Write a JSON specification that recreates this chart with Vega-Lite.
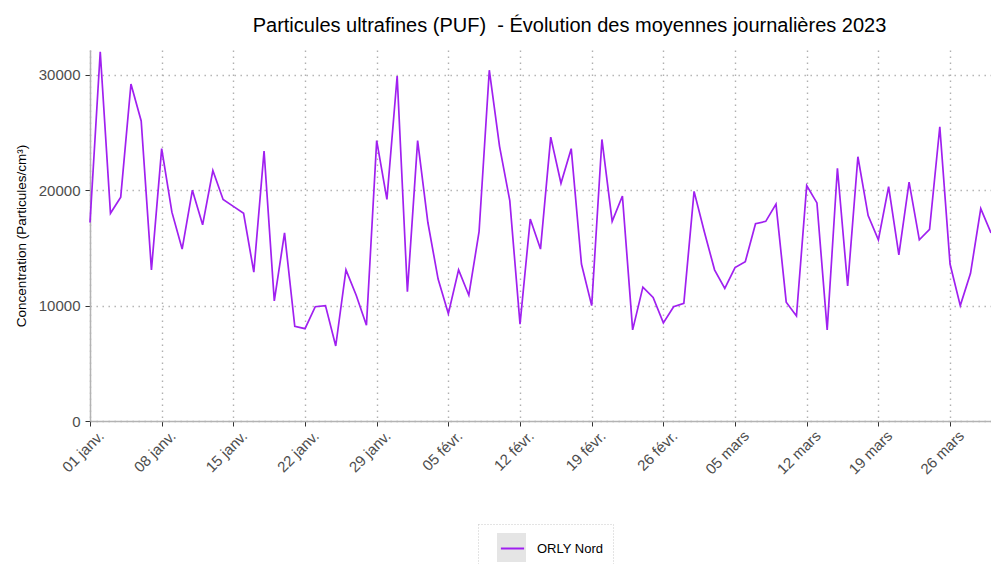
{
  "$schema": "https://vega.github.io/schema/vega-lite/v6.json",
  "width": 901,
  "height": 371,
  "autosize": {"type": "none"},
  "padding": {"left": 90, "top": 50, "right": 0, "bottom": 143},
  "background": "white",
  "config": {"view": {"stroke": null}, "font": "Liberation Sans"},
  "title": {
    "text": "Particules ultrafines (PUF) \u00a0- Évolution des moyennes journalières 2023",
    "anchor": "middle",
    "dx": 29,
    "offset": 12,
    "fontSize": 20,
    "fontWeight": "normal",
    "font": "Liberation Sans",
    "color": "black"
  },
  "data": {
    "values": [
      {"date": "2023-01-01", "value": 17200, "station": "ORLY Nord"},
      {"date": "2023-01-02", "value": 32000, "station": "ORLY Nord"},
      {"date": "2023-01-03", "value": 18000, "station": "ORLY Nord"},
      {"date": "2023-01-04", "value": 19400, "station": "ORLY Nord"},
      {"date": "2023-01-05", "value": 29200, "station": "ORLY Nord"},
      {"date": "2023-01-06", "value": 26000, "station": "ORLY Nord"},
      {"date": "2023-01-07", "value": 13100, "station": "ORLY Nord"},
      {"date": "2023-01-08", "value": 23600, "station": "ORLY Nord"},
      {"date": "2023-01-09", "value": 18100, "station": "ORLY Nord"},
      {"date": "2023-01-10", "value": 14900, "station": "ORLY Nord"},
      {"date": "2023-01-11", "value": 20000, "station": "ORLY Nord"},
      {"date": "2023-01-12", "value": 17000, "station": "ORLY Nord"},
      {"date": "2023-01-13", "value": 21700, "station": "ORLY Nord"},
      {"date": "2023-01-14", "value": 19200, "station": "ORLY Nord"},
      {"date": "2023-01-15", "value": 18600, "station": "ORLY Nord"},
      {"date": "2023-01-16", "value": 18000, "station": "ORLY Nord"},
      {"date": "2023-01-17", "value": 12900, "station": "ORLY Nord"},
      {"date": "2023-01-18", "value": 23400, "station": "ORLY Nord"},
      {"date": "2023-01-19", "value": 10400, "station": "ORLY Nord"},
      {"date": "2023-01-20", "value": 16300, "station": "ORLY Nord"},
      {"date": "2023-01-21", "value": 8200, "station": "ORLY Nord"},
      {"date": "2023-01-22", "value": 8000, "station": "ORLY Nord"},
      {"date": "2023-01-23", "value": 9900, "station": "ORLY Nord"},
      {"date": "2023-01-24", "value": 10000, "station": "ORLY Nord"},
      {"date": "2023-01-25", "value": 6500, "station": "ORLY Nord"},
      {"date": "2023-01-26", "value": 13100, "station": "ORLY Nord"},
      {"date": "2023-01-27", "value": 10900, "station": "ORLY Nord"},
      {"date": "2023-01-28", "value": 8300, "station": "ORLY Nord"},
      {"date": "2023-01-29", "value": 24300, "station": "ORLY Nord"},
      {"date": "2023-01-30", "value": 19200, "station": "ORLY Nord"},
      {"date": "2023-01-31", "value": 29900, "station": "ORLY Nord"},
      {"date": "2023-02-01", "value": 11200, "station": "ORLY Nord"},
      {"date": "2023-02-02", "value": 24300, "station": "ORLY Nord"},
      {"date": "2023-02-03", "value": 17200, "station": "ORLY Nord"},
      {"date": "2023-02-04", "value": 12300, "station": "ORLY Nord"},
      {"date": "2023-02-05", "value": 9300, "station": "ORLY Nord"},
      {"date": "2023-02-06", "value": 13100, "station": "ORLY Nord"},
      {"date": "2023-02-07", "value": 10900, "station": "ORLY Nord"},
      {"date": "2023-02-08", "value": 16400, "station": "ORLY Nord"},
      {"date": "2023-02-09", "value": 30400, "station": "ORLY Nord"},
      {"date": "2023-02-10", "value": 23800, "station": "ORLY Nord"},
      {"date": "2023-02-11", "value": 19100, "station": "ORLY Nord"},
      {"date": "2023-02-12", "value": 8400, "station": "ORLY Nord"},
      {"date": "2023-02-13", "value": 17500, "station": "ORLY Nord"},
      {"date": "2023-02-14", "value": 14900, "station": "ORLY Nord"},
      {"date": "2023-02-15", "value": 24600, "station": "ORLY Nord"},
      {"date": "2023-02-16", "value": 20600, "station": "ORLY Nord"},
      {"date": "2023-02-17", "value": 23600, "station": "ORLY Nord"},
      {"date": "2023-02-18", "value": 13600, "station": "ORLY Nord"},
      {"date": "2023-02-19", "value": 10000, "station": "ORLY Nord"},
      {"date": "2023-02-20", "value": 24400, "station": "ORLY Nord"},
      {"date": "2023-02-21", "value": 17300, "station": "ORLY Nord"},
      {"date": "2023-02-22", "value": 19500, "station": "ORLY Nord"},
      {"date": "2023-02-23", "value": 7900, "station": "ORLY Nord"},
      {"date": "2023-02-24", "value": 11600, "station": "ORLY Nord"},
      {"date": "2023-02-25", "value": 10700, "station": "ORLY Nord"},
      {"date": "2023-02-26", "value": 8500, "station": "ORLY Nord"},
      {"date": "2023-02-27", "value": 9900, "station": "ORLY Nord"},
      {"date": "2023-02-28", "value": 10200, "station": "ORLY Nord"},
      {"date": "2023-03-01", "value": 19900, "station": "ORLY Nord"},
      {"date": "2023-03-02", "value": 16400, "station": "ORLY Nord"},
      {"date": "2023-03-03", "value": 13100, "station": "ORLY Nord"},
      {"date": "2023-03-04", "value": 11500, "station": "ORLY Nord"},
      {"date": "2023-03-05", "value": 13300, "station": "ORLY Nord"},
      {"date": "2023-03-06", "value": 13800, "station": "ORLY Nord"},
      {"date": "2023-03-07", "value": 17100, "station": "ORLY Nord"},
      {"date": "2023-03-08", "value": 17300, "station": "ORLY Nord"},
      {"date": "2023-03-09", "value": 18800, "station": "ORLY Nord"},
      {"date": "2023-03-10", "value": 10300, "station": "ORLY Nord"},
      {"date": "2023-03-11", "value": 9100, "station": "ORLY Nord"},
      {"date": "2023-03-12", "value": 20400, "station": "ORLY Nord"},
      {"date": "2023-03-13", "value": 18900, "station": "ORLY Nord"},
      {"date": "2023-03-14", "value": 7900, "station": "ORLY Nord"},
      {"date": "2023-03-15", "value": 21900, "station": "ORLY Nord"},
      {"date": "2023-03-16", "value": 11700, "station": "ORLY Nord"},
      {"date": "2023-03-17", "value": 22900, "station": "ORLY Nord"},
      {"date": "2023-03-18", "value": 17800, "station": "ORLY Nord"},
      {"date": "2023-03-19", "value": 15700, "station": "ORLY Nord"},
      {"date": "2023-03-20", "value": 20300, "station": "ORLY Nord"},
      {"date": "2023-03-21", "value": 14400, "station": "ORLY Nord"},
      {"date": "2023-03-22", "value": 20700, "station": "ORLY Nord"},
      {"date": "2023-03-23", "value": 15700, "station": "ORLY Nord"},
      {"date": "2023-03-24", "value": 16600, "station": "ORLY Nord"},
      {"date": "2023-03-25", "value": 25500, "station": "ORLY Nord"},
      {"date": "2023-03-26", "value": 13600, "station": "ORLY Nord"},
      {"date": "2023-03-27", "value": 10000, "station": "ORLY Nord"},
      {"date": "2023-03-28", "value": 12800, "station": "ORLY Nord"},
      {"date": "2023-03-29", "value": 18400, "station": "ORLY Nord"},
      {"date": "2023-03-30", "value": 16300, "station": "ORLY Nord"}
    ]
  },
  "encoding": {
    "x": {
      "field": "date",
      "type": "temporal",
      "scale": {
        "type": "utc",
        "domain": [
          {"year": 2023, "month": 1, "date": 1, "utc": true},
          {"year": 2023, "month": 3, "date": 30, "utc": true}
        ]
      },
      "axis": {
        "title": null,
        "values": [
          {"year": 2023, "month": 1, "date": 1, "utc": true},
          {"year": 2023, "month": 1, "date": 8, "utc": true},
          {"year": 2023, "month": 1, "date": 15, "utc": true},
          {"year": 2023, "month": 1, "date": 22, "utc": true},
          {"year": 2023, "month": 1, "date": 29, "utc": true},
          {"year": 2023, "month": 2, "date": 5, "utc": true},
          {"year": 2023, "month": 2, "date": 12, "utc": true},
          {"year": 2023, "month": 2, "date": 19, "utc": true},
          {"year": 2023, "month": 2, "date": 26, "utc": true},
          {"year": 2023, "month": 3, "date": 5, "utc": true},
          {"year": 2023, "month": 3, "date": 12, "utc": true},
          {"year": 2023, "month": 3, "date": 19, "utc": true},
          {"year": 2023, "month": 3, "date": 26, "utc": true}
        ],
        "labelExpr": "utcFormat(datum.value, '%d') + ' ' + (utcmonth(datum.value) == 0 ? 'janv.' : utcmonth(datum.value) == 1 ? 'févr.' : 'mars')",
        "labelAngle": -45,
        "labelAlign": "right",
        "labelBaseline": "top",
        "labelFontSize": 15,
        "labelColor": "#4d4d4d",
        "labelPadding": 2,
        "labelOffset": 6,
        "tickColor": "#333333",
        "tickSize": 5,
        "domainColor": "#b3b3b3",
        "domainWidth": 1.5,
        "grid": true,
        "gridColor": "#b0b0b0",
        "gridDash": [1.4, 4.6],
        "gridWidth": 1.4
      }
    },
    "y": {
      "field": "value",
      "type": "quantitative",
      "scale": {"domain": [0, 32150], "nice": false},
      "axis": {
        "title": "Concentration (Particules/cm³)",
        "titleFontSize": 13.5,
        "titleFontWeight": "normal",
        "titleColor": "black",
        "titlePadding": 10,
        "values": [0, 10000, 20000, 30000],
        "format": "d",
        "labelFontSize": 15,
        "labelColor": "#4d4d4d",
        "labelPadding": 5,
        "tickColor": "#333333",
        "tickSize": 5,
        "domainColor": "#b3b3b3",
        "domainWidth": 1.5,
        "grid": true,
        "gridColor": "#b0b0b0",
        "gridDash": [1.4, 4.6],
        "gridWidth": 1.4
      }
    }
  },
  "layer": [
    {
      "mark": {"type": "square", "opacity": 0},
      "encoding": {
        "fill": {
          "field": "station",
          "type": "nominal",
          "scale": {"domain": ["ORLY Nord"], "range": ["#e5e5e5"]},
          "legend": {
            "orient": "none",
            "legendX": 388,
            "legendY": 474,
            "title": null,
            "padding": 9,
            "symbolOffset": 10,
            "symbolType": "square",
            "symbolSize": 841,
            "symbolOpacity": 1,
            "symbolStrokeWidth": 0,
            "labelExpr": "''",
            "labelFontSize": 13,
            "labelOffset": 9
          }
        }
      }
    },
    {
      "mark": {"type": "line", "strokeWidth": 1.7},
      "encoding": {
        "stroke": {
          "field": "station",
          "type": "nominal",
          "scale": {"range": ["#A020F0"]},
          "legend": {
            "orient": "none",
            "legendX": 388,
            "legendY": 474,
            "title": null,
            "padding": 9,
            "symbolOffset": 10,
            "symbolType": "M-0.8,0H0.8",
            "symbolSize": 841,
            "symbolStrokeWidth": 2,
            "labelFontSize": 13,
            "labelColor": "black",
            "labelOffset": 9,
            "strokeColor": "#c8c8c8",
            "encode": {"legend": {"update": {"strokeDash": {"value": [1, 2]}}}}
          }
        }
      }
    }
  ]
}
